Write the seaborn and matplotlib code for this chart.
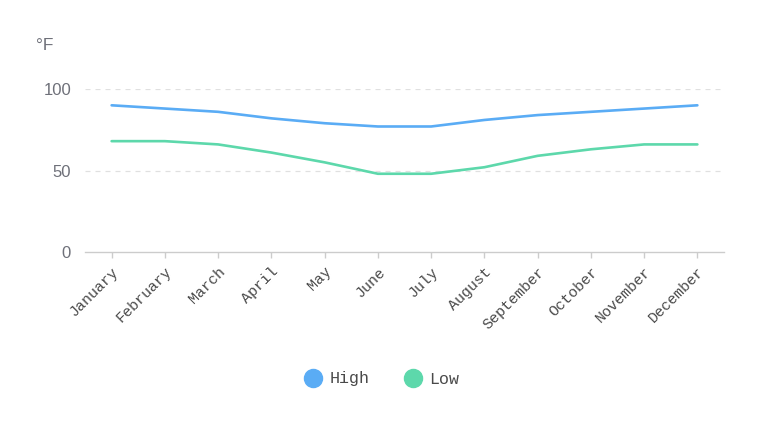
import seaborn as sns
import matplotlib.pyplot as plt
import pandas as pd
from matplotlib.lines import Line2D


months = ['January', 'February', 'March', 'April', 'May', 'June',
          'July', 'August', 'September', 'October', 'November', 'December']
high = [90, 88, 86, 82, 79, 77, 77, 81, 84, 86, 88, 90]
low = [68, 68, 66, 61, 55, 48, 48, 52, 59, 63, 66, 66]
series = ['High', 'Low']
colors = {'High': '#5aacf5', 'Low': '#5dd8ab'}
y_ticks = [0, 50, 100]


df = pd.DataFrame({
    'month': months * 2,
    'pos': list(range(len(months))) * 2,
    'temp': high + low,
    'series': ['High'] * len(months) + ['Low'] * len(months),
})

sns.set_theme(style="white")
plt.rcParams['font.family'] = ['Liberation Mono', 'DejaVu Sans']

fig = plt.figure(figsize=(7.6, 4.32), dpi=100)
ax = fig.add_axes([85 / 760, 1 - 252 / 432, (724 - 85) / 760, (252 - 89) / 432])

sns.lineplot(data=df, x='pos', y='temp', hue='series', palette=colors,
             linewidth=1.9, legend=False, ax=ax)

ax.set_xlim(-0.5, len(months) - 0.5)
ax.set_ylim(0, 100)
ax.set_xticks(range(len(months)))
ax.set_xticklabels(months, rotation=45, ha='right', rotation_mode='anchor',
                   color='#4a4a4a', fontsize=10.8)
ax.set_yticks(y_ticks)
ax.set_yticklabels([str(v) for v in y_ticks], family='Liberation Sans',
                   color='#6e7079', fontsize=12)
ax.set_xlabel('')
ax.set_ylabel('')

for v in y_ticks[1:]:
    ax.axhline(v, color='#e0e0e0', linestyle=(0, (4, 4)), linewidth=0.9, zorder=0)

for side in ['top', 'right', 'left']:
    ax.spines[side].set_visible(False)
ax.spines['bottom'].set_color('#cccccc')
ax.spines['bottom'].set_linewidth(1.0)
ax.tick_params(axis='x', length=4, width=1, color='#cccccc', pad=5, bottom=True)
ax.tick_params(axis='y', length=0, pad=10)

fig.text(36 / 760, 1 - 46 / 432, '°F', family='Liberation Sans',
         color='#6e7079', fontsize=12.5, va='center', ha='left')

handles = [Line2D([], [], marker='o', linestyle='', markersize=13,
                  markerfacecolor=colors[s], markeredgecolor=colors[s]) for s in series]
fig.legend(handles, series, loc='center', bbox_to_anchor=(0.497, 1 - 379 / 432),
           ncol=2, frameon=False, fontsize=12, handletextpad=0.0, columnspacing=1.6,
           labelcolor='#4a4a4a')

fig.savefig('out.png', dpi=100)
